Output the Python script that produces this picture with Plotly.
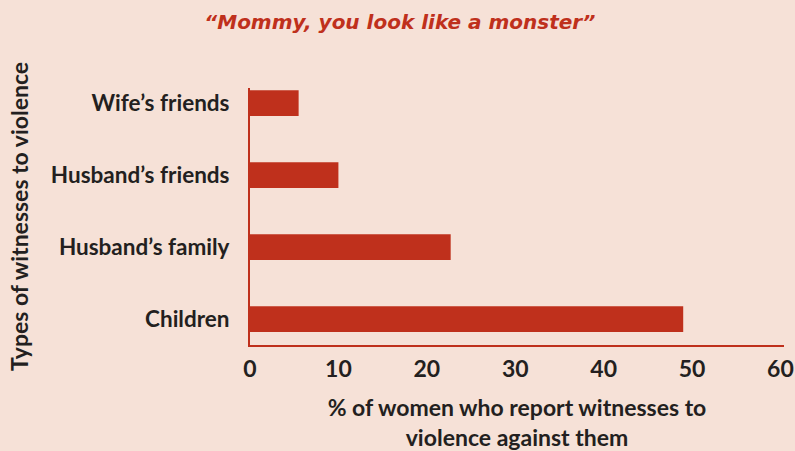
import plotly.graph_objects as go

categories = ["Children", "Husband\u2019s family", "Husband\u2019s friends", "Wife\u2019s friends"]
values = [49, 22.7, 10, 5.5]
x_ticks = [0, 10, 20, 30, 40, 50, 60]

RED = "#bf301c"
BG = "#f6e1d7"
TXT = "#231f20"
FONT = "Lato"

fig = go.Figure(
    go.Bar(
        x=values,
        y=categories,
        orientation="h",
        marker=dict(color=RED, line=dict(width=0)),
        width=0.36,
        hoverinfo="x+y",
    )
)

fig.update_layout(
    width=795,
    height=451,
    paper_bgcolor=BG,
    plot_bgcolor=BG,
    margin=dict(l=250, r=11, t=88, b=106),
    showlegend=False,
    title=dict(
        text="\u201cMommy, you look like a monster\u201d",
        x=0.503,
        xref="container",
        xanchor="center",
        y=0.951,
        yref="container",
        yanchor="middle",
        font=dict(family="DejaVu Sans", size=20, color=RED, style="italic", weight="bold"),
    ),
    font=dict(family=FONT, color=TXT),
)

fig.update_xaxes(
    range=[0, 60.4],
    tickvals=x_ticks,
    ticktext=[str(v) for v in x_ticks],
    showgrid=False,
    zeroline=False,
    showline=True,
    linecolor=RED,
    linewidth=2,
    ticks="",
    automargin=False,
    ticklabelstandoff=2,
    tickfont=dict(family=FONT, size=23, color=TXT, weight="bold"),
    title=dict(
        text="% of women who report witnesses to<br>violence against them",
        font=dict(family=FONT, size=23, color=TXT, weight="bold"),
        standoff=24,
    ),
)

fig.update_yaxes(
    type="category",
    categoryorder="array",
    categoryarray=categories,
    range=[-0.36, 3.21],
    showgrid=False,
    zeroline=False,
    showline=True,
    linecolor=RED,
    linewidth=2,
    ticks="",
    automargin=False,
    ticklabelstandoff=14,
    tickfont=dict(family=FONT, size=22.5, color=TXT, weight="bold"),
    title=dict(
        text="Types of witnesses to violence",
        font=dict(family=FONT, size=23, color=TXT, weight="bold"),
        standoff=16,
    ),
)

fig.write_html(
    "out.html",
    config={"displayModeBar": False},
    post_script="document.body.style.margin='0';document.body.style.background='" + BG + "';",
)
